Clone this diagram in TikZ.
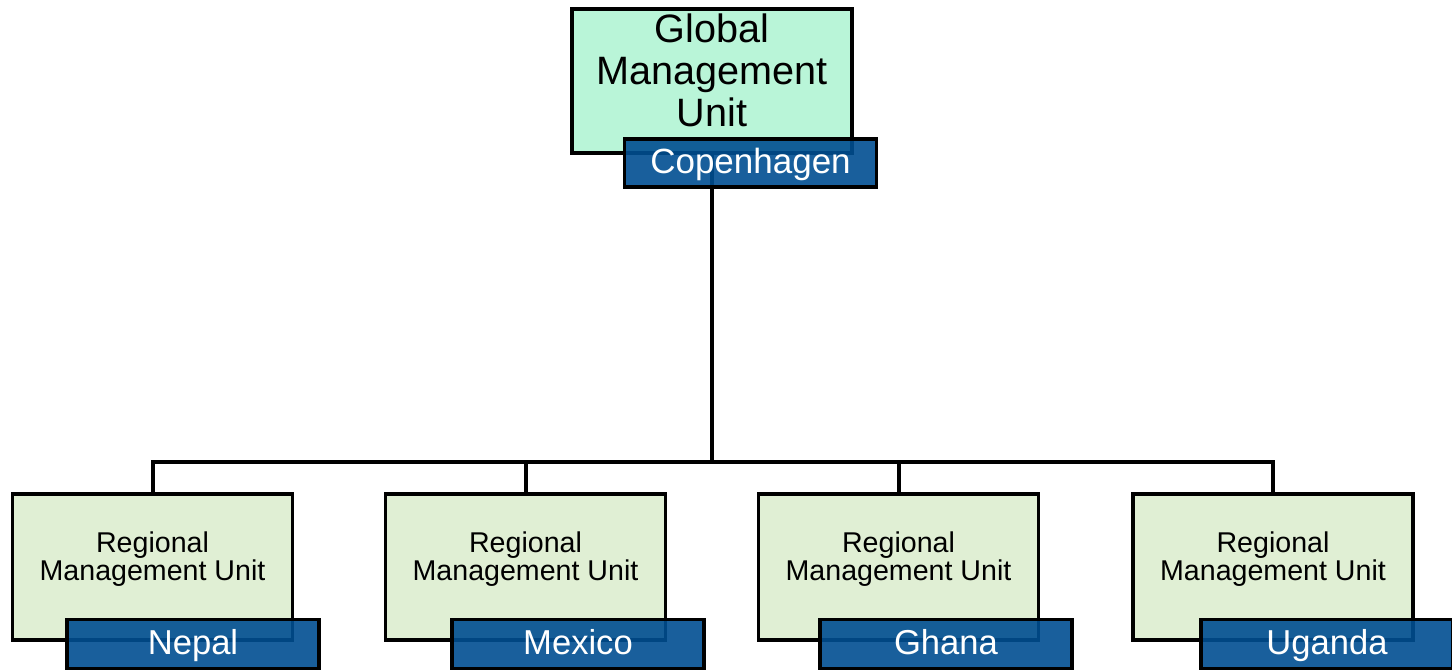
\documentclass[tikz,border=0pt]{standalone}
\usepackage{fontspec}
\setmainfont{Liberation Sans}
\usetikzlibrary{positioning}

\definecolor{gmugreen}{RGB}{185,245,216}
\definecolor{rmugreen}{RGB}{224,239,212}
\definecolor{placeblue}{RGB}{0,78,145}

\begin{document}
\begin{tikzpicture}[x=0.5pt, y=-0.5pt,
  unitbox/.style={draw=black, line width=1.6pt, inner sep=0pt,
    minimum width=140pt, minimum height=73pt},
  placebox/.style={draw=black, line width=1.6pt, fill=placeblue,
    fill opacity=0.9, text opacity=1, text=white, inner sep=0pt,
    text height=14pt, text depth=4pt,
    minimum width=126pt, minimum height=24.5pt},
  unittext/.style={align=center, inner sep=0pt},
  link/.style={line width=2pt}]
  \useasboundingbox (0,0) rectangle (1452,671);

  % Global unit at the top
  \node[unitbox, fill=gmugreen, minimum height=72pt] (gmu) at (712,81) {};
  \node[unittext, font=\fontsize{19.8}{21}\selectfont] (gmu-text) at (712,70)
    {Global\\Management\\Unit};

  % Regional units in a row
  \foreach \x/\n in {152.5/1, 525.5/2, 898.5/3, 1273/4} {
    \node[unitbox, fill=rmugreen] (rmu\n) at (\x,567) {};
    \node[unittext, font=\fontsize{14.3}{14}\selectfont] (rmu\n-text) at (\x,559)
      {Regional\\Management Unit};
  }

  % Connectors: trunk, bus and drops
  \coordinate (bus) at (712,462);
  \draw[link] (gmu.south) -- (bus);
  \foreach \n in {1,...,4} {
    \draw[link, line join=miter] (bus) -| (rmu\n.north);
  }

  % Place labels over the units
  \node[placebox, minimum height=24pt, font=\fontsize{17.5}{20}\selectfont]
    (copenhagen) at (750.5,163) {Copenhagen};
  \foreach \x/\place in {193/Nepal, 578/Mexico, 946/Ghana, 1327/Uganda} {
    \node[placebox, font=\fontsize{17.3}{20}\selectfont] (\place) at (\x,644) {\place};
  }
\end{tikzpicture}
\end{document}
